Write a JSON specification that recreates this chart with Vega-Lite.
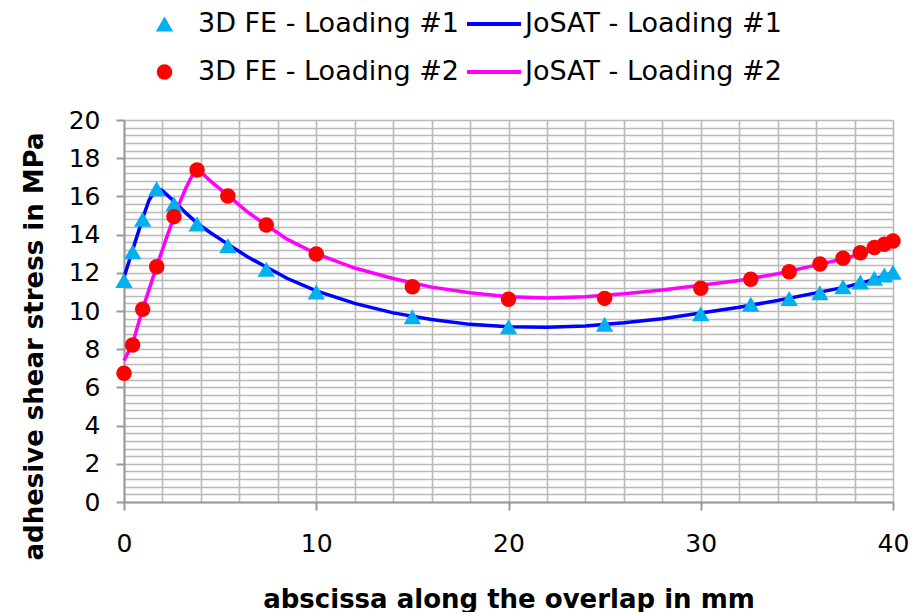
{
  "$schema": "https://vega.github.io/schema/vega-lite/v6.json",
  "width": 769,
  "height": 382,
  "autosize": {"type": "none"},
  "padding": {"left": 124, "top": 120, "right": 22, "bottom": 110},
  "background": "white",
  "config": {
    "view": {"stroke": null},
    "font": "DejaVu Sans",
    "axis": {
      "grid": true,
      "gridColor": "#b9b9b9",
      "gridWidth": 1.6,
      "domainColor": "#999999",
      "domainWidth": 2,
      "tickColor": "#999999",
      "tickWidth": 2,
      "tickSize": 8,
      "labelFont": "DejaVu Sans",
      "labelFontSize": 25,
      "labelColor": "black",
      "labelOverlap": false,
      "labelFlush": false,
      "titleFont": "DejaVu Sans",
      "titleFontWeight": "bold",
      "titleColor": "black",
      "zindex": 0
    },
    "legend": {
      "labelFont": "DejaVu Sans",
      "labelFontSize": 27,
      "labelColor": "black",
      "labelLimit": 0,
      "padding": 0
    }
  },
  "data": {
    "values": [
      {"kind": "JoSAT", "series": "JoSAT - Loading #1", "x": 0, "y": 11.75},
      {"kind": "JoSAT", "series": "JoSAT - Loading #1", "x": 0.45, "y": 13.2},
      {"kind": "JoSAT", "series": "JoSAT - Loading #1", "x": 0.97, "y": 14.85},
      {"kind": "JoSAT", "series": "JoSAT - Loading #1", "x": 1.3, "y": 15.8},
      {"kind": "JoSAT", "series": "JoSAT - Loading #1", "x": 1.7, "y": 16.45},
      {"kind": "JoSAT", "series": "JoSAT - Loading #1", "x": 2.0, "y": 16.3},
      {"kind": "JoSAT", "series": "JoSAT - Loading #1", "x": 2.6, "y": 15.75},
      {"kind": "JoSAT", "series": "JoSAT - Loading #1", "x": 3.2, "y": 15.15},
      {"kind": "JoSAT", "series": "JoSAT - Loading #1", "x": 3.8, "y": 14.6},
      {"kind": "JoSAT", "series": "JoSAT - Loading #1", "x": 4.5, "y": 14.1},
      {"kind": "JoSAT", "series": "JoSAT - Loading #1", "x": 5.4, "y": 13.5},
      {"kind": "JoSAT", "series": "JoSAT - Loading #1", "x": 6.4, "y": 12.85},
      {"kind": "JoSAT", "series": "JoSAT - Loading #1", "x": 7.4, "y": 12.3},
      {"kind": "JoSAT", "series": "JoSAT - Loading #1", "x": 8.5, "y": 11.7},
      {"kind": "JoSAT", "series": "JoSAT - Loading #1", "x": 10, "y": 11.05},
      {"kind": "JoSAT", "series": "JoSAT - Loading #1", "x": 12, "y": 10.4},
      {"kind": "JoSAT", "series": "JoSAT - Loading #1", "x": 14, "y": 9.9},
      {"kind": "JoSAT", "series": "JoSAT - Loading #1", "x": 16, "y": 9.55},
      {"kind": "JoSAT", "series": "JoSAT - Loading #1", "x": 18, "y": 9.3},
      {"kind": "JoSAT", "series": "JoSAT - Loading #1", "x": 20, "y": 9.18},
      {"kind": "JoSAT", "series": "JoSAT - Loading #1", "x": 22, "y": 9.15},
      {"kind": "JoSAT", "series": "JoSAT - Loading #1", "x": 24, "y": 9.22},
      {"kind": "JoSAT", "series": "JoSAT - Loading #1", "x": 26, "y": 9.38},
      {"kind": "JoSAT", "series": "JoSAT - Loading #1", "x": 28, "y": 9.6},
      {"kind": "JoSAT", "series": "JoSAT - Loading #1", "x": 30, "y": 9.9},
      {"kind": "JoSAT", "series": "JoSAT - Loading #1", "x": 32, "y": 10.2},
      {"kind": "JoSAT", "series": "JoSAT - Loading #1", "x": 34, "y": 10.55},
      {"kind": "JoSAT", "series": "JoSAT - Loading #1", "x": 36, "y": 10.95},
      {"kind": "JoSAT", "series": "JoSAT - Loading #1", "x": 37.5, "y": 11.25},
      {"kind": "JoSAT", "series": "JoSAT - Loading #1", "x": 38.5, "y": 11.5},
      {"kind": "JoSAT", "series": "JoSAT - Loading #1", "x": 39.2, "y": 11.72},
      {"kind": "JoSAT", "series": "JoSAT - Loading #1", "x": 39.7, "y": 11.9},
      {"kind": "JoSAT", "series": "JoSAT - Loading #1", "x": 40, "y": 12.0},
      {"kind": "JoSAT", "series": "JoSAT - Loading #2", "x": 0, "y": 7.4},
      {"kind": "JoSAT", "series": "JoSAT - Loading #2", "x": 0.45, "y": 8.3},
      {"kind": "JoSAT", "series": "JoSAT - Loading #2", "x": 0.97, "y": 10.1},
      {"kind": "JoSAT", "series": "JoSAT - Loading #2", "x": 1.7, "y": 12.35},
      {"kind": "JoSAT", "series": "JoSAT - Loading #2", "x": 2.6, "y": 14.95},
      {"kind": "JoSAT", "series": "JoSAT - Loading #2", "x": 3.2, "y": 16.4},
      {"kind": "JoSAT", "series": "JoSAT - Loading #2", "x": 3.6, "y": 17.2},
      {"kind": "JoSAT", "series": "JoSAT - Loading #2", "x": 3.82, "y": 17.45},
      {"kind": "JoSAT", "series": "JoSAT - Loading #2", "x": 4.5, "y": 16.8},
      {"kind": "JoSAT", "series": "JoSAT - Loading #2", "x": 5.4, "y": 16.05},
      {"kind": "JoSAT", "series": "JoSAT - Loading #2", "x": 6.4, "y": 15.2},
      {"kind": "JoSAT", "series": "JoSAT - Loading #2", "x": 7.4, "y": 14.5},
      {"kind": "JoSAT", "series": "JoSAT - Loading #2", "x": 8.5, "y": 13.75},
      {"kind": "JoSAT", "series": "JoSAT - Loading #2", "x": 10, "y": 13.0},
      {"kind": "JoSAT", "series": "JoSAT - Loading #2", "x": 12, "y": 12.25},
      {"kind": "JoSAT", "series": "JoSAT - Loading #2", "x": 14, "y": 11.7},
      {"kind": "JoSAT", "series": "JoSAT - Loading #2", "x": 16, "y": 11.25},
      {"kind": "JoSAT", "series": "JoSAT - Loading #2", "x": 18, "y": 10.95},
      {"kind": "JoSAT", "series": "JoSAT - Loading #2", "x": 20, "y": 10.75},
      {"kind": "JoSAT", "series": "JoSAT - Loading #2", "x": 22, "y": 10.68},
      {"kind": "JoSAT", "series": "JoSAT - Loading #2", "x": 24, "y": 10.75},
      {"kind": "JoSAT", "series": "JoSAT - Loading #2", "x": 26, "y": 10.9},
      {"kind": "JoSAT", "series": "JoSAT - Loading #2", "x": 28, "y": 11.1},
      {"kind": "JoSAT", "series": "JoSAT - Loading #2", "x": 30, "y": 11.35},
      {"kind": "JoSAT", "series": "JoSAT - Loading #2", "x": 32, "y": 11.6},
      {"kind": "JoSAT", "series": "JoSAT - Loading #2", "x": 34, "y": 11.95},
      {"kind": "JoSAT", "series": "JoSAT - Loading #2", "x": 36, "y": 12.4},
      {"kind": "JoSAT", "series": "JoSAT - Loading #2", "x": 37.5, "y": 12.75},
      {"kind": "JoSAT", "series": "JoSAT - Loading #2", "x": 38.5, "y": 13.05},
      {"kind": "JoSAT", "series": "JoSAT - Loading #2", "x": 39.2, "y": 13.3},
      {"kind": "JoSAT", "series": "JoSAT - Loading #2", "x": 39.7, "y": 13.5},
      {"kind": "JoSAT", "series": "JoSAT - Loading #2", "x": 40, "y": 13.65},
      {"kind": "FE", "series": "3D FE - Loading #1", "x": 0, "y": 11.6},
      {"kind": "FE", "series": "3D FE - Loading #1", "x": 0.45, "y": 13.1},
      {"kind": "FE", "series": "3D FE - Loading #1", "x": 0.97, "y": 14.8},
      {"kind": "FE", "series": "3D FE - Loading #1", "x": 1.7, "y": 16.4},
      {"kind": "FE", "series": "3D FE - Loading #1", "x": 2.6, "y": 15.6},
      {"kind": "FE", "series": "3D FE - Loading #1", "x": 3.8, "y": 14.55},
      {"kind": "FE", "series": "3D FE - Loading #1", "x": 5.4, "y": 13.42},
      {"kind": "FE", "series": "3D FE - Loading #1", "x": 7.4, "y": 12.18},
      {"kind": "FE", "series": "3D FE - Loading #1", "x": 10, "y": 11.0},
      {"kind": "FE", "series": "3D FE - Loading #1", "x": 15, "y": 9.7},
      {"kind": "FE", "series": "3D FE - Loading #1", "x": 20, "y": 9.18},
      {"kind": "FE", "series": "3D FE - Loading #1", "x": 25, "y": 9.3},
      {"kind": "FE", "series": "3D FE - Loading #1", "x": 30, "y": 9.85},
      {"kind": "FE", "series": "3D FE - Loading #1", "x": 32.6, "y": 10.35},
      {"kind": "FE", "series": "3D FE - Loading #1", "x": 34.6, "y": 10.66},
      {"kind": "FE", "series": "3D FE - Loading #1", "x": 36.2, "y": 10.96},
      {"kind": "FE", "series": "3D FE - Loading #1", "x": 37.4, "y": 11.27},
      {"kind": "FE", "series": "3D FE - Loading #1", "x": 38.3, "y": 11.52},
      {"kind": "FE", "series": "3D FE - Loading #1", "x": 39.03, "y": 11.71},
      {"kind": "FE", "series": "3D FE - Loading #1", "x": 39.55, "y": 11.88},
      {"kind": "FE", "series": "3D FE - Loading #1", "x": 40, "y": 12.03},
      {"kind": "FE", "series": "3D FE - Loading #2", "x": 0, "y": 6.74},
      {"kind": "FE", "series": "3D FE - Loading #2", "x": 0.45, "y": 8.22},
      {"kind": "FE", "series": "3D FE - Loading #2", "x": 0.97, "y": 10.09},
      {"kind": "FE", "series": "3D FE - Loading #2", "x": 1.7, "y": 12.32},
      {"kind": "FE", "series": "3D FE - Loading #2", "x": 2.6, "y": 14.94},
      {"kind": "FE", "series": "3D FE - Loading #2", "x": 3.8, "y": 17.38},
      {"kind": "FE", "series": "3D FE - Loading #2", "x": 5.4, "y": 16.02},
      {"kind": "FE", "series": "3D FE - Loading #2", "x": 7.4, "y": 14.5},
      {"kind": "FE", "series": "3D FE - Loading #2", "x": 10, "y": 12.98},
      {"kind": "FE", "series": "3D FE - Loading #2", "x": 15, "y": 11.27},
      {"kind": "FE", "series": "3D FE - Loading #2", "x": 20, "y": 10.61},
      {"kind": "FE", "series": "3D FE - Loading #2", "x": 25, "y": 10.66},
      {"kind": "FE", "series": "3D FE - Loading #2", "x": 30, "y": 11.19},
      {"kind": "FE", "series": "3D FE - Loading #2", "x": 32.6, "y": 11.66},
      {"kind": "FE", "series": "3D FE - Loading #2", "x": 34.6, "y": 12.06},
      {"kind": "FE", "series": "3D FE - Loading #2", "x": 36.2, "y": 12.46},
      {"kind": "FE", "series": "3D FE - Loading #2", "x": 37.4, "y": 12.76},
      {"kind": "FE", "series": "3D FE - Loading #2", "x": 38.3, "y": 13.05},
      {"kind": "FE", "series": "3D FE - Loading #2", "x": 39.03, "y": 13.32},
      {"kind": "FE", "series": "3D FE - Loading #2", "x": 39.55, "y": 13.49},
      {"kind": "FE", "series": "3D FE - Loading #2", "x": 40, "y": 13.66}
    ]
  },
  "encoding": {
    "x": {
      "field": "x",
      "type": "quantitative",
      "scale": {"domain": [0, 40], "nice": false, "zero": false},
      "axis": {
        "values": [0, 2, 4, 6, 8, 10, 12, 14, 16, 18, 20, 22, 24, 26, 28, 30, 32, 34, 36, 38, 40],
        "labelExpr": "datum.value % 10 === 0 ? format(datum.value, 'd') : ''",
        "tickOpacity": {"condition": {"test": "datum.value % 10 === 0", "value": 1}, "value": 0},
        "labelPadding": 21,
        "title": "abscissa along the overlap in mm",
        "titleFontSize": 26,
        "titleY": 105,
        "titleBaseline": "alphabetic"
      }
    },
    "y": {
      "field": "y",
      "type": "quantitative",
      "scale": {"domain": [0, 20], "nice": false, "zero": false},
      "axis": {
        "values": [0, 0.4, 0.8, 1.2, 1.6, 2, 2.4, 2.8, 3.2, 3.6, 4, 4.4, 4.8, 5.2, 5.6, 6, 6.4, 6.8, 7.2, 7.6, 8, 8.4, 8.8, 9.2, 9.6, 10, 10.4, 10.8, 11.2, 11.6, 12, 12.4, 12.8, 13.2, 13.6, 14, 14.4, 14.8, 15.2, 15.6, 16, 16.4, 16.8, 17.2, 17.6, 18, 18.4, 18.8, 19.2, 19.6, 20],
        "labelExpr": "datum.value % 2 === 0 ? format(datum.value, 'd') : ''",
        "tickOpacity": {"condition": {"test": "datum.value % 2 === 0", "value": 1}, "value": 0},
        "labelPadding": 16,
        "title": "adhesive shear stress in MPa",
        "titleFontSize": 26,
        "titleX": -82,
        "titleY": 226,
        "titleAngle": 270,
        "titleAlign": "center",
        "titleBaseline": "alphabetic"
      }
    }
  },
  "layer": [
    {
      "transform": [{"filter": "datum.kind === 'JoSAT'"}],
      "mark": {"type": "line", "strokeWidth": 3.5},
      "encoding": {
        "stroke": {
          "field": "series",
          "type": "nominal",
          "scale": {"domain": ["JoSAT - Loading #1", "JoSAT - Loading #2"], "range": ["#0000FF", "#FF00FF"]},
          "legend": {
            "orient": "none",
            "legendX": 341,
            "legendY": -109,
            "title": null,
            "direction": "vertical",
            "symbolType": "stroke",
            "symbolSize": 2916,
            "symbolStrokeWidth": 4,
            "labelOffset": 2,
            "clipHeight": 26,
            "rowPadding": 21
          }
        }
      }
    },
    {
      "transform": [{"filter": "datum.kind === 'FE'"}],
      "mark": {"type": "point", "filled": true, "opacity": 1},
      "encoding": {
        "fill": {
          "field": "series",
          "type": "nominal",
          "scale": {"domain": ["3D FE - Loading #1", "3D FE - Loading #2"], "range": ["#00B0F0", "#FF0000"]},
          "legend": {
            "orient": "none",
            "legendX": 27,
            "legendY": -109,
            "title": null,
            "direction": "vertical",
            "labelOffset": 20,
            "clipHeight": 26,
            "rowPadding": 21
          }
        },
        "shape": {
          "field": "series",
          "type": "nominal",
          "scale": {"domain": ["3D FE - Loading #1", "3D FE - Loading #2"], "range": ["triangle-up", "circle"]},
          "legend": {
            "orient": "none",
            "legendX": 27,
            "legendY": -109,
            "title": null,
            "direction": "vertical",
            "labelOffset": 20,
            "clipHeight": 26,
            "rowPadding": 21
          }
        },
        "size": {
          "field": "series",
          "type": "nominal",
          "scale": {"domain": ["3D FE - Loading #1", "3D FE - Loading #2"], "range": [300, 240]},
          "legend": {
            "orient": "none",
            "legendX": 27,
            "legendY": -109,
            "title": null,
            "direction": "vertical",
            "labelOffset": 20,
            "clipHeight": 26,
            "rowPadding": 21
          }
        }
      }
    }
  ]
}
